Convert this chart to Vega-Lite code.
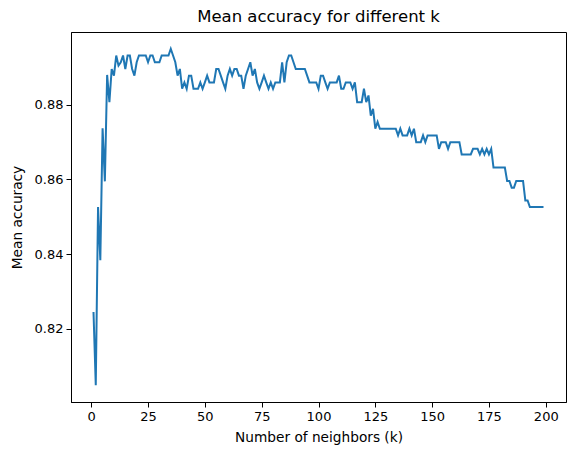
{
  "$schema": "https://vega.github.io/schema/vega-lite/v6.json",
  "width": 495,
  "height": 370,
  "autosize": {"type": "none"},
  "padding": {"left": 71, "top": 32, "right": 10, "bottom": 53},
  "background": "white",
  "title": {"text": "Mean accuracy for different k", "fontSize": 16.5, "font": "DejaVu Sans", "fontWeight": "normal", "offset": 7, "color": "black"},
  "config": {
    "view": {"stroke": "black", "strokeWidth": 1},
    "axis": {
      "grid": false,
      "domainColor": "black",
      "domainWidth": 1,
      "tickColor": "black",
      "tickSize": 5,
      "tickWidth": 1,
      "labelFont": "DejaVu Sans",
      "labelFontSize": 13,
      "labelColor": "black",
      "labelPadding": 3,
      "titleFont": "DejaVu Sans",
      "titleFontSize": 13.7,
      "titleFontWeight": "normal",
      "titleColor": "black"
    }
  },
  "data": {"values": [
    {"k":1,"acc":0.8245},{"k":2,"acc":0.8049},{"k":3,"acc":0.8526},{"k":4,"acc":0.8384},{"k":5,"acc":0.8737},
    {"k":6,"acc":0.8595},{"k":7,"acc":0.888},{"k":8,"acc":0.8807},{"k":9,"acc":0.8896},{"k":10,"acc":0.8878},
    {"k":11,"acc":0.8932},{"k":12,"acc":0.8905},{"k":13,"acc":0.8914},{"k":14,"acc":0.8932},{"k":15,"acc":0.8896},
    {"k":16,"acc":0.8932},{"k":17,"acc":0.8932},{"k":18,"acc":0.8896},{"k":19,"acc":0.8878},{"k":20,"acc":0.8914},
    {"k":21,"acc":0.8932},{"k":22,"acc":0.8932},{"k":23,"acc":0.8932},{"k":24,"acc":0.8932},{"k":25,"acc":0.8914},
    {"k":26,"acc":0.8932},{"k":27,"acc":0.8932},{"k":28,"acc":0.8914},{"k":29,"acc":0.8914},{"k":30,"acc":0.8914},
    {"k":31,"acc":0.8932},{"k":32,"acc":0.8932},{"k":33,"acc":0.8932},{"k":34,"acc":0.8932},{"k":35,"acc":0.895},
    {"k":36,"acc":0.8932},{"k":37,"acc":0.8914},{"k":38,"acc":0.8878},{"k":39,"acc":0.8896},{"k":40,"acc":0.8843},
    {"k":41,"acc":0.886},{"k":42,"acc":0.8843},{"k":43,"acc":0.8878},{"k":44,"acc":0.8878},{"k":45,"acc":0.8843},
    {"k":46,"acc":0.8843},{"k":47,"acc":0.8843},{"k":48,"acc":0.886},{"k":49,"acc":0.8843},{"k":50,"acc":0.886},
    {"k":51,"acc":0.8878},{"k":52,"acc":0.886},{"k":53,"acc":0.886},{"k":54,"acc":0.886},{"k":55,"acc":0.8896},
    {"k":56,"acc":0.8896},{"k":57,"acc":0.8878},{"k":58,"acc":0.886},{"k":59,"acc":0.8843},{"k":60,"acc":0.8878},
    {"k":61,"acc":0.8896},{"k":62,"acc":0.8878},{"k":63,"acc":0.8896},{"k":64,"acc":0.8896},{"k":65,"acc":0.8878},
    {"k":66,"acc":0.8878},{"k":67,"acc":0.8843},{"k":68,"acc":0.8878},{"k":69,"acc":0.8896},{"k":70,"acc":0.8914},
    {"k":71,"acc":0.8878},{"k":72,"acc":0.8896},{"k":73,"acc":0.886},{"k":74,"acc":0.8843},{"k":75,"acc":0.886},
    {"k":76,"acc":0.8878},{"k":77,"acc":0.886},{"k":78,"acc":0.8843},{"k":79,"acc":0.886},{"k":80,"acc":0.8843},
    {"k":81,"acc":0.886},{"k":82,"acc":0.886},{"k":83,"acc":0.886},{"k":84,"acc":0.8914},{"k":85,"acc":0.886},
    {"k":86,"acc":0.8914},{"k":87,"acc":0.8932},{"k":88,"acc":0.8932},{"k":89,"acc":0.8914},{"k":90,"acc":0.8896},
    {"k":91,"acc":0.8896},{"k":92,"acc":0.8896},{"k":93,"acc":0.8896},{"k":94,"acc":0.8896},{"k":95,"acc":0.8878},
    {"k":96,"acc":0.886},{"k":97,"acc":0.886},{"k":98,"acc":0.886},{"k":99,"acc":0.886},{"k":100,"acc":0.8843},
    {"k":101,"acc":0.8878},{"k":102,"acc":0.8878},{"k":103,"acc":0.886},{"k":104,"acc":0.8843},{"k":105,"acc":0.886},
    {"k":106,"acc":0.886},{"k":107,"acc":0.886},{"k":108,"acc":0.886},{"k":109,"acc":0.8878},{"k":110,"acc":0.8843},
    {"k":111,"acc":0.8843},{"k":112,"acc":0.886},{"k":113,"acc":0.886},{"k":114,"acc":0.886},{"k":115,"acc":0.8843},
    {"k":116,"acc":0.886},{"k":117,"acc":0.8807},{"k":118,"acc":0.8807},{"k":119,"acc":0.8807},{"k":120,"acc":0.8843},
    {"k":121,"acc":0.8807},{"k":122,"acc":0.8825},{"k":123,"acc":0.8771},{"k":124,"acc":0.8789},{"k":125,"acc":0.8736},
    {"k":126,"acc":0.8754},{"k":127,"acc":0.8736},{"k":128,"acc":0.8736},{"k":129,"acc":0.8736},{"k":130,"acc":0.8736},
    {"k":131,"acc":0.8736},{"k":132,"acc":0.8736},{"k":133,"acc":0.8736},{"k":134,"acc":0.8736},{"k":135,"acc":0.8718},
    {"k":136,"acc":0.8736},{"k":137,"acc":0.8718},{"k":138,"acc":0.8718},{"k":139,"acc":0.8718},{"k":140,"acc":0.8736},
    {"k":141,"acc":0.8718},{"k":142,"acc":0.8736},{"k":143,"acc":0.87},{"k":144,"acc":0.87},{"k":145,"acc":0.87},
    {"k":146,"acc":0.8718},{"k":147,"acc":0.87},{"k":148,"acc":0.8718},{"k":149,"acc":0.8718},{"k":150,"acc":0.8718},
    {"k":151,"acc":0.8718},{"k":152,"acc":0.8718},{"k":153,"acc":0.8682},{"k":154,"acc":0.87},{"k":155,"acc":0.87},
    {"k":156,"acc":0.87},{"k":157,"acc":0.8682},{"k":158,"acc":0.87},{"k":159,"acc":0.87},{"k":160,"acc":0.87},
    {"k":161,"acc":0.87},{"k":162,"acc":0.87},{"k":163,"acc":0.8667},{"k":164,"acc":0.8667},{"k":165,"acc":0.8667},
    {"k":166,"acc":0.8667},{"k":167,"acc":0.8667},{"k":168,"acc":0.8682},{"k":169,"acc":0.8682},{"k":170,"acc":0.8682},
    {"k":171,"acc":0.8667},{"k":172,"acc":0.8682},{"k":173,"acc":0.8667},{"k":174,"acc":0.8682},{"k":175,"acc":0.8667},
    {"k":176,"acc":0.8682},{"k":177,"acc":0.8632},{"k":178,"acc":0.8632},{"k":179,"acc":0.8632},{"k":180,"acc":0.8632},
    {"k":181,"acc":0.8632},{"k":182,"acc":0.8632},{"k":183,"acc":0.8596},{"k":184,"acc":0.8596},{"k":185,"acc":0.8578},
    {"k":186,"acc":0.8578},{"k":187,"acc":0.8596},{"k":188,"acc":0.8596},{"k":189,"acc":0.8596},{"k":190,"acc":0.8596},
    {"k":191,"acc":0.8544},{"k":192,"acc":0.8544},{"k":193,"acc":0.8526},{"k":194,"acc":0.8526},{"k":195,"acc":0.8526},
    {"k":196,"acc":0.8526},{"k":197,"acc":0.8526},{"k":198,"acc":0.8526},{"k":199,"acc":0.8526}
  ]},
  "mark": {"type": "line", "color": "#1f77b4", "strokeWidth": 2},
  "encoding": {
    "x": {
      "field": "k", "type": "quantitative",
      "scale": {"domain": [-8.9, 208.9], "nice": false, "zero": false},
      "axis": {"values": [0, 25, 50, 75, 100, 125, 150, 175, 200], "title": "Number of neighbors (k)", "titlePadding": 7}
    },
    "y": {
      "field": "acc", "type": "quantitative",
      "scale": {"domain": [0.8004, 0.8995], "nice": false, "zero": false},
      "axis": {"values": [0.82, 0.84, 0.86, 0.88], "format": ".2f", "title": "Mean accuracy", "titlePadding": 10}
    }
  }
}
